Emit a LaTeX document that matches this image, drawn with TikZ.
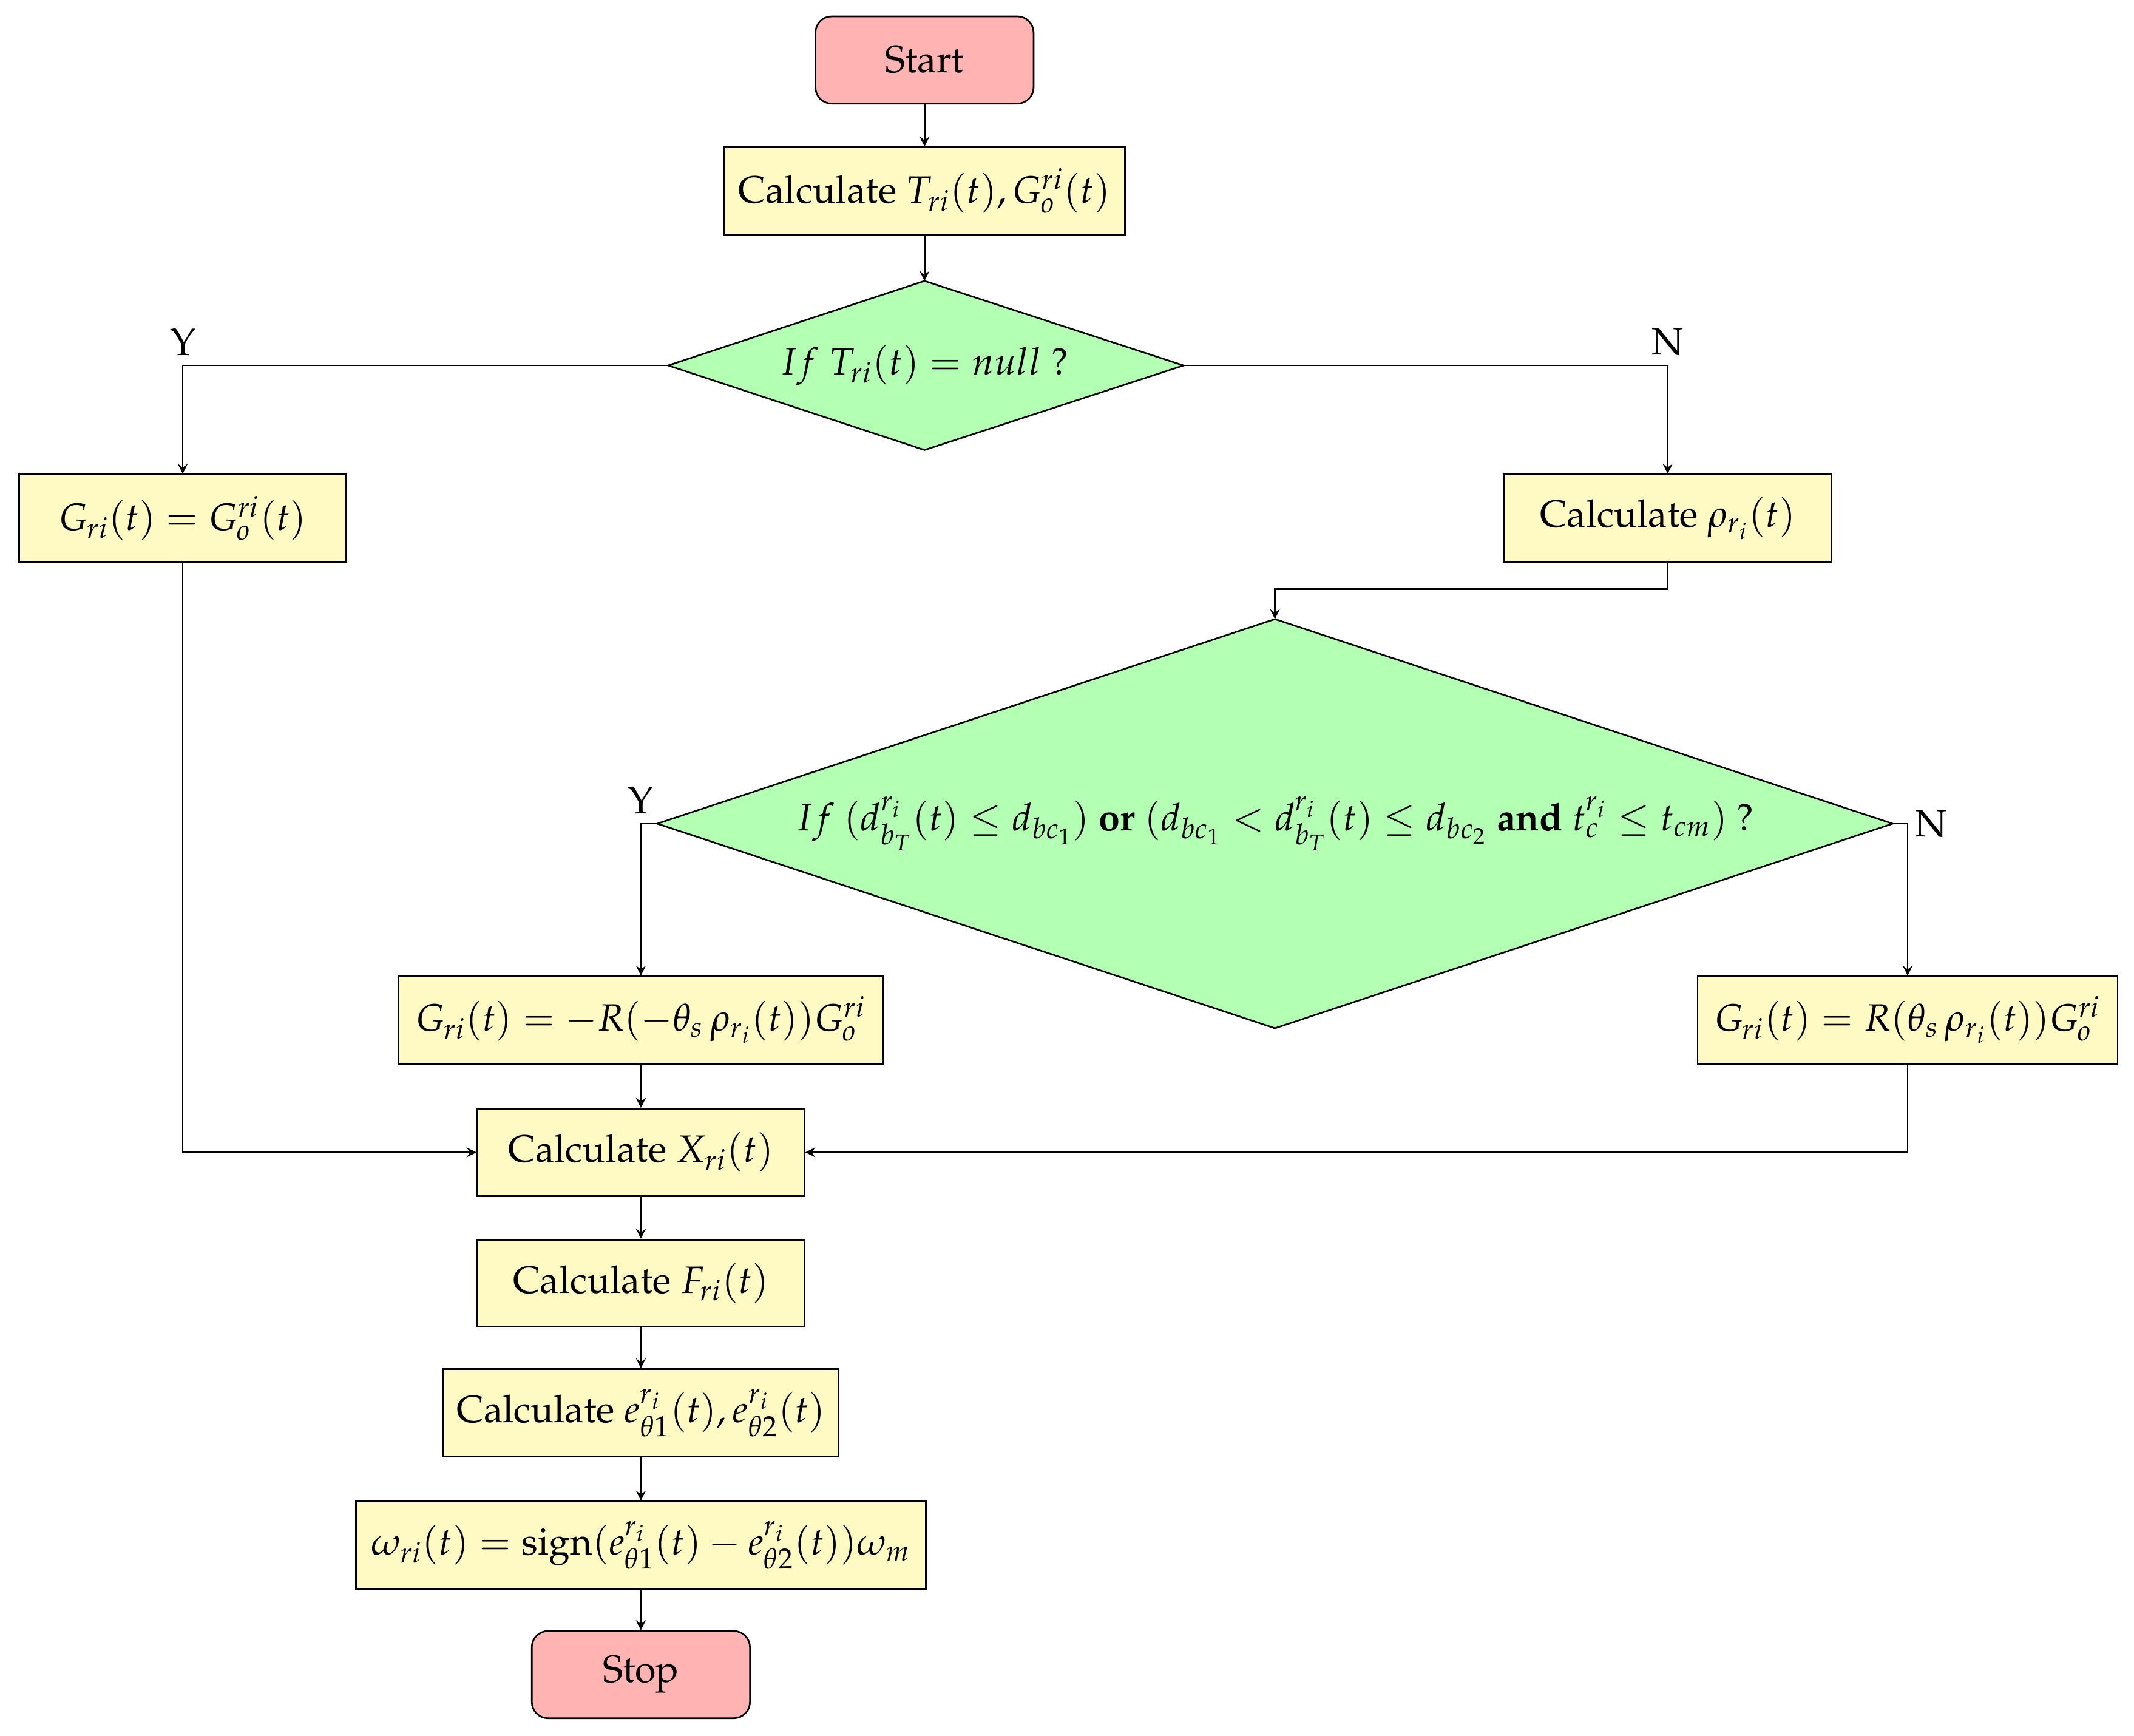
\documentclass[tikz,border=0pt]{standalone}
\usepackage[T1]{fontenc}
\usepackage{amsmath}
\usepackage{amssymb}
\usepackage{mathpazo}
\usetikzlibrary{calc}
\definecolor{termred}{RGB}{255,179,179}
\definecolor{procyel}{RGB}{255,250,196}
\definecolor{decgreen}{RGB}{179,255,179}
\tikzset{
  box/.style={draw, fill=procyel, minimum height=32pt, inner sep=2pt, font=\fontsize{14}{16}\selectfont},
  term/.style={box, fill=termred, rounded corners=6pt, minimum width=80pt},
  dec/.style={draw, fill=decgreen},
  lbl/.style={font=\fontsize{14}{16}\selectfont},
  arr/.style={->, >=stealth}
}
\begin{document}
\begin{tikzpicture}[x=0.5pt, y=-0.5pt, semithick]
        \useasboundingbox (0,0) rectangle (1565,1273);

        % first decision
        \coordinate (d1n) at (678,206);
        \coordinate (d1e) at (868,268);
        \coordinate (d1s) at (678,330);
        \coordinate (d1w) at (490,268);
        \draw[dec] (d1n) -- (d1e) -- (d1s) -- (d1w) -- cycle;

        % second decision
        \coordinate (d2n) at (935,454);
        \coordinate (d2e) at (1388,604);
        \coordinate (d2s) at (935,754);
        \coordinate (d2w) at (482,604);
        \draw[dec] (d2n) -- (d2e) -- (d2s) -- (d2w) -- cycle;

        \node[lbl] (q1) at (678,268) {$If~T_{ri}(t) = null$ ?};
        \node[lbl] (q2) at (935,604) {$If~(d_{b_T}^{r_i}(t) \leq d_{bc_1})$ \textbf{or} $(d_{bc_1} < d_{b_T}^{r_i}(t) \leq d_{bc_2}$ \textbf{and} $t_c^{r_i} \leq t_{cm})$ ?};

        \node[term] (start) at (678,44) {Start};
        \node[box, minimum width=147pt] (calcT) at (678,140) {Calculate $T_{ri}(t), G_o^{ri}(t)$};
        \node[box, minimum width=120pt] (gri) at (134,380) {$G_{ri}(t) = G_o^{ri}(t)$};
        \node[box, minimum width=120pt] (rho) at (1223,380) {Calculate $\rho_{r_i}(t)$};
        \node[box, minimum width=178pt] (gneg) at (470,748) {$G_{ri}(t) = -R(-\theta_s\,\rho_{r_i}(t))G_o^{ri}$};
        \node[box, minimum width=154pt] (gpos) at (1399,748) {$G_{ri}(t) = R(\theta_s\,\rho_{r_i}(t))G_o^{ri}$};
        \node[box, minimum width=120pt] (calcX) at (470,845) {Calculate $X_{ri}(t)$};
        \node[box, minimum width=120pt] (calcF) at (470,941) {Calculate $F_{ri}(t)$};
        \node[box, minimum width=145pt] (calcE) at (470,1036) {Calculate $e_{\theta 1}^{r_i}(t), e_{\theta 2}^{r_i}(t)$};
        \node[box, minimum width=209pt] (omega) at (470,1133) {$\omega_{ri}(t) = \operatorname{sign}(e_{\theta 1}^{r_i}(t) - e_{\theta 2}^{r_i}(t))\omega_m$};
        \node[term] (stop) at (470,1228) {Stop};

        \coordinate (bend) at (935,432);

        \draw[arr] (start) -- (calcT);
        \draw[arr] (calcT) -- (d1n);
        \draw[arr] (d1w) -| (gri) node[lbl, pos=0.5, above] {Y};
        \draw[arr] (d1e) -| (rho) node[lbl, pos=0.5, above] {N};
        \draw[arr] (rho.south) |- (bend) -- (d2n);
        \draw[arr] (d2w) -| (gneg) node[lbl, pos=0.5, above] {Y};
        \draw[arr] (d2e) -| (gpos) node[lbl, pos=0.05, right, xshift=4pt] {N};
        \draw[arr] (gneg) -- (calcX);
        \draw[arr] (gri.south) |- (calcX.west);
        \draw[arr] (gpos.south) |- (calcX.east);
        \draw[arr] (calcX) -- (calcF);
        \draw[arr] (calcF) -- (calcE);
        \draw[arr] (calcE) -- (omega);
        \draw[arr] (omega) -- (stop);
\end{tikzpicture}
\end{document}
